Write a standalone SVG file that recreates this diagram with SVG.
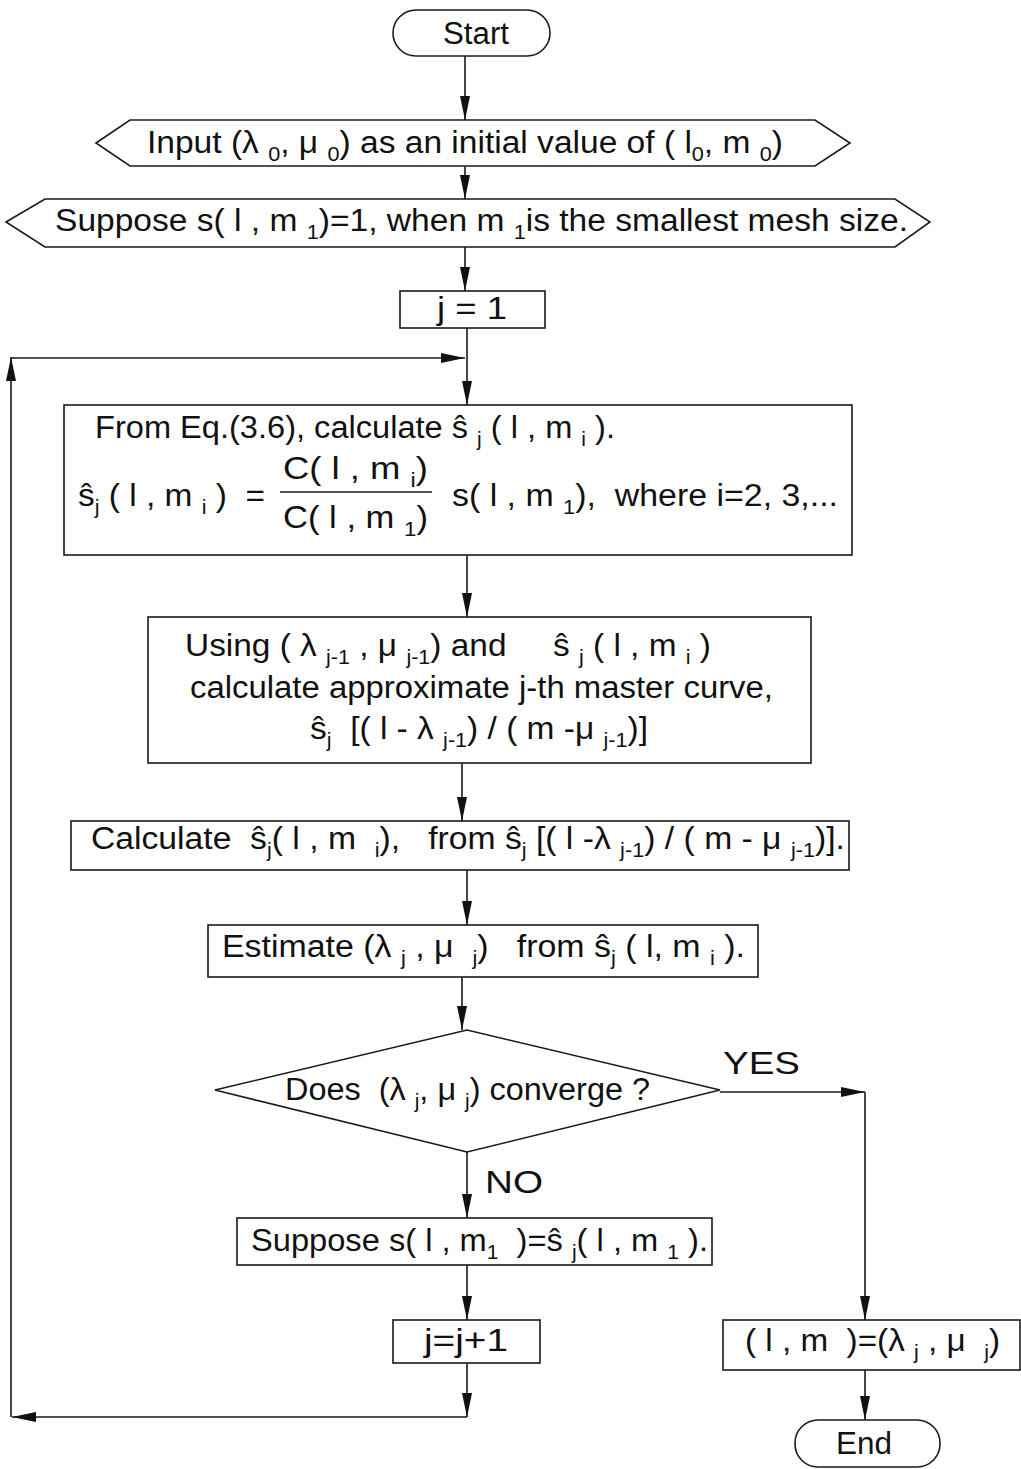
<svg xmlns="http://www.w3.org/2000/svg" width="1021" height="1469" viewBox="0 0 1021 1469">
<style>
.sh{fill:#fff;stroke:#1a1a1a;stroke-width:1.6}
.t{font-family:"Liberation Sans",Arial,sans-serif;font-size:31px;fill:#111;white-space:pre}
.s{font-size:20px}
.c{fill:none;stroke:#1a1a1a;stroke-width:1.6}
.a{marker-end:url(#ah)}
</style>
<defs>
<marker id="ah" viewBox="0 0 24 10" refX="24" refY="5" markerWidth="24" markerHeight="10" orient="auto" markerUnits="userSpaceOnUse">
<path d="M0,0 L24,5 L0,10 z" fill="#111"/>
</marker>
</defs>
<rect width="1021" height="1469" fill="#fff"/>
<g id="connectors">
<path class="c a" d="M465,56 V120"/>
<path class="c a" d="M465,166 V199"/>
<path class="c a" d="M465,247 V291"/>
<path class="c a" d="M467,328 V405"/>
<path class="c a" d="M467,555 V617"/>
<path class="c a" d="M462,763 V821"/>
<path class="c a" d="M467,870 V925"/>
<path class="c a" d="M462,977 V1030"/>
<path class="c a" d="M720,1092 H865"/>
<path class="c a" d="M865,1092 V1320"/>
<path class="c a" d="M467,1152 V1218"/>
<path class="c a" d="M467,1265 V1320"/>
<path class="c a" d="M467,1363 V1417"/>
<path class="c a" d="M467,1417 H12"/>
<path class="c a" d="M11,1417 V357"/>
<path class="c a" d="M11,358 H465"/>
<path class="c a" d="M865,1370 V1420"/>
</g>
<g id="start">
<rect class="sh" x="393" y="10" width="157" height="46" rx="23"/>
<text class="t" x="443" y="44" textLength="66" lengthAdjust="spacingAndGlyphs" font-size="32">Start</text>
</g>
<g id="input">
<polygon class="sh" points="96,143 130,120 815,120 850,143 815,166 130,166"/>
<text class="t" x="147" y="153" textLength="636" lengthAdjust="spacingAndGlyphs">Input (λ <tspan class="s" dy="8">0</tspan><tspan dy="-8">, μ </tspan><tspan class="s" dy="8">0</tspan><tspan dy="-8">) as an initial value of ( l</tspan><tspan class="s" dy="8">0</tspan><tspan dy="-8">, m </tspan><tspan class="s" dy="8">0</tspan><tspan dy="-8">)</tspan></text>
</g>
<g id="suppose1">
<polygon class="sh" points="6,222 45,199 895,199 930,222 895,247 45,247"/>
<text class="t" x="55" y="231" textLength="853" lengthAdjust="spacingAndGlyphs">Suppose s( l , m <tspan class="s" dy="8">1</tspan><tspan dy="-8">)=1, when m </tspan><tspan class="s" dy="8">1</tspan><tspan dy="-8">is the smallest mesh size.</tspan></text>
</g>
<g id="j1">
<rect class="sh" x="400" y="291" width="145" height="37"/>
<text class="t" x="437" y="319" textLength="70" lengthAdjust="spacingAndGlyphs">j = 1</text>
</g>
<g id="fromeq">
<rect class="sh" x="64" y="405" width="788" height="150"/>
<text class="t" x="95" y="438" textLength="520" lengthAdjust="spacingAndGlyphs">From Eq.(3.6), calculate ŝ <tspan class="s" dy="8">j</tspan><tspan dy="-8"> ( l , m </tspan><tspan class="s" dy="8">i</tspan><tspan dy="-8"> ).</tspan></text>
<text class="t" x="78" y="506" textLength="187" lengthAdjust="spacingAndGlyphs">ŝ<tspan class="s" dy="8">j</tspan><tspan dy="-8"> ( l , m </tspan><tspan class="s" dy="8">i</tspan><tspan dy="-8"> )  =</tspan></text>
<text class="t" x="283" y="479" textLength="145" lengthAdjust="spacingAndGlyphs">C( l , m <tspan class="s" dy="8">i</tspan><tspan dy="-8">)</tspan></text>
<line class="c" x1="280" y1="492" x2="432" y2="492"/>
<text class="t" x="283" y="528" textLength="145" lengthAdjust="spacingAndGlyphs">C( l , m <tspan class="s" dy="8">1</tspan><tspan dy="-8">)</tspan></text>
<text class="t" x="452" y="506" textLength="386" lengthAdjust="spacingAndGlyphs">s( l , m <tspan class="s" dy="8">1</tspan><tspan dy="-8">),  where i=2, 3,...</tspan></text>
</g>
<g id="using">
<rect class="sh" x="148" y="617" width="663" height="146"/>
<text class="t" x="185" y="656" textLength="526" lengthAdjust="spacingAndGlyphs">Using ( λ <tspan class="s" dy="8">j-1</tspan><tspan dy="-8"> , μ </tspan><tspan class="s" dy="8">j-1</tspan><tspan dy="-8">) and     ŝ </tspan><tspan class="s" dy="8">j</tspan><tspan dy="-8"> ( l , m </tspan><tspan class="s" dy="8">i</tspan><tspan dy="-8"> )</tspan></text>
<text class="t" x="190" y="698" textLength="583" lengthAdjust="spacingAndGlyphs">calculate approximate j-th master curve,</text>
<text class="t" x="310" y="739" textLength="338" lengthAdjust="spacingAndGlyphs">ŝ<tspan class="s" dy="8">j</tspan><tspan dy="-8">  [( l - λ </tspan><tspan class="s" dy="8">j-1</tspan><tspan dy="-8">) / ( m -μ </tspan><tspan class="s" dy="8">j-1</tspan><tspan dy="-8">)]</tspan></text>
</g>
<g id="calculate">
<rect class="sh" x="71" y="821" width="778" height="49"/>
<text class="t" x="91" y="849" textLength="754" lengthAdjust="spacingAndGlyphs">Calculate  ŝ<tspan class="s" dy="8">j</tspan><tspan dy="-8">( l , m  </tspan><tspan class="s" dy="8">i</tspan><tspan dy="-8">),   from ŝ</tspan><tspan class="s" dy="8">j</tspan><tspan dy="-8"> [( l -λ </tspan><tspan class="s" dy="8">j-1</tspan><tspan dy="-8">) / ( m - μ </tspan><tspan class="s" dy="8">j-1</tspan><tspan dy="-8">)].</tspan></text>
</g>
<g id="estimate">
<rect class="sh" x="208" y="925" width="550" height="52"/>
<text class="t" x="222" y="957" textLength="523" lengthAdjust="spacingAndGlyphs">Estimate (λ <tspan class="s" dy="8">j</tspan><tspan dy="-8"> , μ  </tspan><tspan class="s" dy="8">j</tspan><tspan dy="-8">)   from ŝ</tspan><tspan class="s" dy="8">j</tspan><tspan dy="-8"> ( l, m </tspan><tspan class="s" dy="8">i</tspan><tspan dy="-8"> ).</tspan></text>
</g>
<g id="decision">
<polygon class="sh" points="215,1090 467,1030 720,1090 467,1152"/>
<text class="t" x="285" y="1100" textLength="365" lengthAdjust="spacingAndGlyphs">Does  (λ <tspan class="s" dy="8">j</tspan><tspan dy="-8">, μ </tspan><tspan class="s" dy="8">j</tspan><tspan dy="-8">) converge ?</tspan></text>
<text class="t" x="723" y="1074" font-size="38" textLength="77" lengthAdjust="spacingAndGlyphs">YES</text>
<text class="t" x="485" y="1193" font-size="38" textLength="58" lengthAdjust="spacingAndGlyphs">NO</text>
</g>
<g id="suppose2">
<rect class="sh" x="237" y="1218" width="475" height="47"/>
<text class="t" x="251" y="1251" textLength="457" lengthAdjust="spacingAndGlyphs">Suppose s( l , m<tspan class="s" dy="8">1</tspan><tspan dy="-8">  )=ŝ </tspan><tspan class="s" dy="8">j</tspan><tspan dy="-8">( l , m </tspan><tspan class="s" dy="8">1</tspan><tspan dy="-8"> ).</tspan></text>
</g>
<g id="jinc">
<rect class="sh" x="393" y="1320" width="147" height="43"/>
<text class="t" x="424" y="1351" textLength="84" lengthAdjust="spacingAndGlyphs">j=j+1</text>
</g>
<g id="result">
<rect class="sh" x="723" y="1320" width="297" height="50"/>
<text class="t" x="745" y="1351" textLength="255" lengthAdjust="spacingAndGlyphs">( l , m  )=(λ <tspan class="s" dy="8">j</tspan><tspan dy="-8"> , μ  </tspan><tspan class="s" dy="8">j</tspan><tspan dy="-8">)</tspan></text>
</g>
<g id="end">
<rect class="sh" x="795" y="1420" width="145" height="47" rx="23"/>
<text class="t" x="836" y="1454" font-size="32" textLength="56" lengthAdjust="spacingAndGlyphs">End</text>
</g>
</svg>
